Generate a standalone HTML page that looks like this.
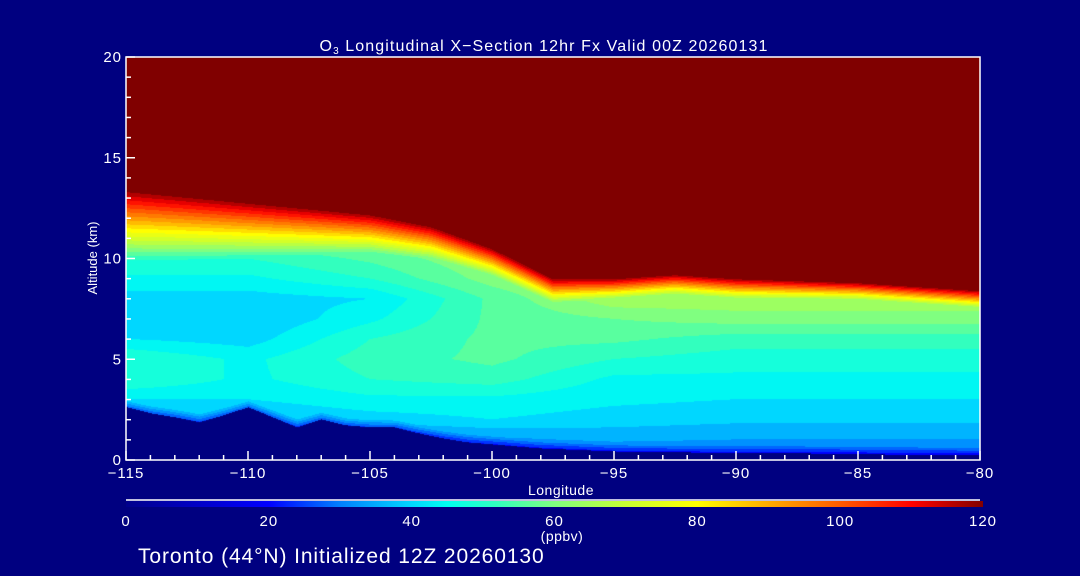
<!DOCTYPE html>
<html><head><meta charset="utf-8">
<style>
html,body{margin:0;padding:0;background:#000080;}
#wrap{position:relative;width:1080px;height:576px;background:#000080;overflow:hidden;font-family:"Liberation Sans",sans-serif;color:#fff;}
canvas{position:absolute;left:126px;top:57px;}
svg{position:absolute;left:0;top:0;}
</style></head>
<body>
<div id="wrap">
<canvas id="cv" width="854" height="403"></canvas>
<svg id="sv" width="1080" height="576"></svg>
</div>
<script>
// ---- data ----
const gridLons = [-115,-110,-105,-100,-95,-90,-85,-80];
const gridAlts = [0,1,2,3,4,5,6,7,8,9,10,11,12];
const gridVals = [
 [20,20,22,24,26,27,26,26],
 [30,30,30,33,35,34,34,34],
 [36,37,40,42,40,39,39,39],
 [42,42,45,45,43,42,42,42],
 [50,45,50,52,45,45,45,45],
 [50,45,52,55,50,48,48,48],
 [42,40,50,55,55,52,52,52],
 [38,38,45,55,58,60,60,60],
 [40,40,42,55,65,65,65,65],
 [45,45,50,60,65,65,65,65],
 [50,50,55,62,65,65,65,65],
 [58,58,60,65,65,65,65,65],
 [60,60,62,65,65,65,65,65]
];
const tropoLons = [-115,-112.5,-110,-107.5,-105,-102.5,-100,-97.5,-95,-92.5,-90,-87.5,-85,-82.5,-80];
const tropoAlt  = [13.4,13.1,12.8,12.5,12.2,11.6,10.5,9.0,9.0,9.2,9.0,8.9,8.8,8.6,8.4];
const thickLons = [-115,-110,-105,-100,-95,-90,-85,-80];
const thickKm   = [2.0,1.6,1.2,0.9,0.7,0.7,0.6,0.6];
const surfLons = [];
for(let l=-115;l<=-80;l++) surfLons.push(l);
const surfAlt = [2.6,2.3,2.1,1.85,2.2,2.6,2.1,1.6,2.0,1.7,1.6,1.6,1.3,1.05,0.85,0.75,0.65,0.55,0.5,0.45,0.4,0.38,0.36,0.35,0.34,0.33,0.32,0.32,0.3,0.28,0.27,0.25,0.24,0.22,0.21,0.2];
const xTicks = [-115,-110,-105,-100,-95,-90,-85,-80];
const yTicks = [0,5,10,15,20];
const cbTicks = [0,20,40,60,80,100,120];
// ---- axes ----
const X0=126,X1=980,Y0=460,Y1=57;
const xs = l => X0 + (l+115)/35*(X1-X0);
const ys = z => Y0 - z/20*(Y0-Y1);
function interp(xa,ya,x){
  if(x<=xa[0]) return ya[0];
  for(let i=1;i<xa.length;i++){ if(x<=xa[i]){const t=(x-xa[i-1])/(xa[i]-xa[i-1]);return ya[i-1]+t*(ya[i]-ya[i-1]);} }
  return ya[ya.length-1];
}
function gridVal(l,z){
  const zi=Math.min(Math.max(z,0),12);
  const r=Math.min(Math.floor(zi),11), tz=zi-r;
  const a=interp(gridLons,gridVals[r],l), b=interp(gridLons,gridVals[r+1],l);
  return a+(b-a)*tz;
}
const stops=[[0,[0,0,140]],[20,[0,0,255]],[30,[0,128,255]],[40,[0,215,255]],[45,[0,255,240]],[52,[50,255,190]],[60,[128,255,128]],[70,[200,255,50]],[80,[255,255,0]],[90,[255,170,0]],[100,[255,90,0]],[110,[255,0,0]],[120,[128,0,0]]];
function cmap(v){
  v=Math.max(0,Math.min(120,v));
  for(let i=1;i<stops.length;i++){ if(v<=stops[i][0]){const t=(v-stops[i-1][0])/(stops[i][0]-stops[i-1][0]);const a=stops[i-1][1],b=stops[i][1];return [a[0]+(b[0]-a[0])*t,a[1]+(b[1]-a[1])*t,a[2]+(b[2]-a[2])*t];} }
  return stops[stops.length-1][1];
}
// ---- field ----
const cv=document.getElementById('cv'),ctx=cv.getContext('2d');
const W=cv.width,H=cv.height,img=ctx.createImageData(W,H);
for(let px=0;px<W;px++){
  const l=-115+px/(W-1)*35;
  const tr=interp(tropoLons,tropoAlt,l), th=interp(thickLons,thickKm,l), sf=interp(surfLons,surfAlt,l);
  for(let py=0;py<H;py++){
    const z=(H-1-py)/(H-1)*20;
    let c;
    if(z<sf){ c=[0,0,128]; }
    else{
      let v;
      if(z>=tr) v=120;
      else{
        const ramp=120-(tr-z)/th*40;
        v=Math.max(gridVal(l,z),ramp);
      }
      const d=z-sf;
      if(d<0.4) v=v*(0.7+0.75*d);
      v=Math.round(v/4)*4;
      c=cmap(v);
    }
    const k=(py*W+px)*4;
    img.data[k]=c[0];img.data[k+1]=c[1];img.data[k+2]=c[2];img.data[k+3]=255;
  }
}
ctx.putImageData(img,0,0);
// ---- svg overlay ----
const NS='http://www.w3.org/2000/svg',sv=document.getElementById('sv');
function mk(tag,attrs,parent){const e=document.createElementNS(NS,tag);for(const k in attrs)e.setAttribute(k,attrs[k]);(parent||sv).appendChild(e);return e;}
const frame=mk('rect',{x:X0,y:Y1,width:X1-X0,height:Y0-Y1,fill:'none',stroke:'#fff','stroke-width':1.5});


for(let l=-115;l<=-80;l++){
  const major=(l%5===0), len=major?9:5;
  const t=mk('line',{x1:xs(l),x2:xs(l),y1:Y0,y2:Y0-len,stroke:'#fff','stroke-width':1.5});
  
  
}
for(let z=0;z<=20;z++){
  const major=(z%5===0), len=major?9:5;
  const t=mk('line',{x1:X0,x2:X0+len,y1:ys(z),y2:ys(z),stroke:'#fff','stroke-width':1.5});
  
  
}
xTicks.forEach(l=>{
  const t=mk('text',{x:xs(l),y:478,'text-anchor':'middle','font-size':15,'letter-spacing':1,fill:'#fff','font-family':'Liberation Sans, sans-serif'});
  t.textContent=(l<0?'\u2212'+(-l):l);
  
  
});
yTicks.forEach(z=>{
  const t=mk('text',{x:X0-4,y:ys(z)+5,'text-anchor':'end','font-size':15,'letter-spacing':1,fill:'#fff','font-family':'Liberation Sans, sans-serif'});
  t.textContent=z;
  
  
});
// colorbar
const defs=mk('defs',{});
const lg=mk('linearGradient',{id:'cb',x1:0,x2:1,y1:0,y2:0},defs);
stops.forEach(s=>{mk('stop',{offset:s[0]/120,'stop-color':'rgb('+s[1].map(Math.round).join(',')+')'},lg);});
const cbx0=126,cbx1=983;
const cbr=mk('rect',{x:cbx0,y:501,width:cbx1-cbx0,height:6,fill:'url(#cb)'});


const cbl=mk('line',{x1:cbx0,x2:980,y1:500,y2:500,stroke:'#fff','stroke-width':1.5});


cbTicks.forEach(v=>{
  const t=mk('text',{x:cbx0+v/120*(cbx1-cbx0),y:526,'text-anchor':'middle','font-size':15,'letter-spacing':1,fill:'#fff','font-family':'Liberation Sans, sans-serif'});
  t.textContent=v;
  
  
});
</script>
<svg width="1080" height="576" style="position:absolute;left:0;top:0;pointer-events:none">
<text x="544" y="51" text-anchor="middle" font-size="16" letter-spacing="1.1" fill="#fff" font-family="Liberation Sans, sans-serif">O<tspan font-size="10" dy="3">3</tspan><tspan dy="-3"> Longitudinal X−Section 12hr  Fx Valid 00Z 20260131</tspan></text>
<text x="561" y="495" text-anchor="middle" font-size="14" letter-spacing="0.5" fill="#fff" font-family="Liberation Sans, sans-serif">Longitude</text>
<text transform="translate(97,258) rotate(-90)" text-anchor="middle" font-size="13" fill="#fff" font-family="Liberation Sans, sans-serif">Altitude (km)</text>
<text x="562" y="541" text-anchor="middle" font-size="14" letter-spacing="0.5" fill="#fff" font-family="Liberation Sans, sans-serif">(ppbv)</text>
<text x="138" y="563" font-size="21" letter-spacing="0.9" fill="#fff" font-family="Liberation Sans, sans-serif">Toronto (44°N) Initialized 12Z 20260130</text>
</svg>
</body></html>
